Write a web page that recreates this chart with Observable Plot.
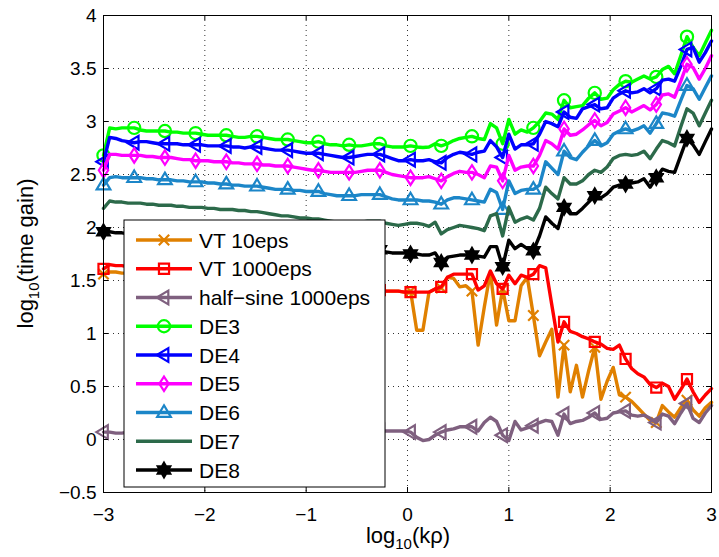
<!DOCTYPE html>
<html>
<head>
<meta charset="utf-8">
<script src="https://cdn.jsdelivr.net/npm/d3@7"></script>
<script src="https://cdn.jsdelivr.net/npm/@observablehq/plot@0.6"></script>
<style>
  body { margin: 0; background: #fff; }
  #chart { width: 719px; height: 557px; }
</style>
</head>
<body>
<div id="chart"></div>
<script>
// ---------- data ----------
const xTicks = [-3, -2, -1, 0, 1, 2, 3];
const yTicks = [-0.5, 0, 0.5, 1, 1.5, 2, 2.5, 3, 3.5, 4];

const xLog = [
 -3.000,-2.939,-2.879,-2.818,-2.758,-2.697,-2.636,-2.576,-2.515,-2.455,
 -2.394,-2.333,-2.273,-2.212,-2.152,-2.091,-2.030,-1.970,-1.909,-1.848,
 -1.788,-1.727,-1.667,-1.606,-1.545,-1.485,-1.424,-1.364,-1.303,-1.242,
 -1.182,-1.121,-1.061,-1.000,-0.939,-0.879,-0.818,-0.758,-0.697,-0.636,
 -0.576,-0.515,-0.455,-0.394,-0.333,-0.273,-0.212,-0.152,-0.091,-0.030,
  0.030, 0.091, 0.152, 0.212, 0.273, 0.333, 0.394, 0.455, 0.515, 0.576,
  0.636, 0.697, 0.758, 0.818, 0.879, 0.939, 1.000, 1.061, 1.121, 1.182,
  1.242, 1.303, 1.364, 1.424, 1.485, 1.545, 1.606, 1.667, 1.727, 1.788,
  1.848, 1.909, 1.970, 2.030, 2.091, 2.152, 2.212, 2.273, 2.333, 2.394,
  2.455, 2.515, 2.576, 2.636, 2.697, 2.758, 2.818, 2.879, 2.939, 3.000];

const vt10 = [
 1.56,1.58,1.58,1.57,1.57,1.56,1.56,1.55,1.55,1.55,
 1.54,1.54,1.53,1.53,1.52,1.52,1.51,1.51,1.50,1.50,
 1.49,1.49,1.48,1.48,1.47,1.47,1.46,1.46,1.45,1.45,
 1.44,1.44,1.43,1.43,1.42,1.42,1.42,1.41,1.41,1.41,
 1.40,1.40,1.40,1.40,1.40,1.40,1.40,1.40,1.40,1.39,
 1.40,1.03,1.03,1.39,1.42,1.43,1.53,1.52,1.44,1.45,
 1.40,0.89,1.25,1.58,1.08,1.42,1.12,1.12,1.45,1.53,
 1.17,0.79,0.92,1.04,0.40,0.89,0.45,0.70,0.40,0.65,
 0.87,0.38,0.55,0.68,0.42,0.40,0.36,0.30,0.24,0.18,
 0.16,0.32,0.26,0.21,0.30,0.37,0.28,0.22,0.30,0.35];

const vt1000 = [
 1.61,1.65,1.64,1.64,1.63,1.63,1.62,1.62,1.61,1.61,
 1.60,1.60,1.59,1.59,1.58,1.58,1.57,1.57,1.56,1.56,
 1.55,1.55,1.54,1.53,1.53,1.52,1.52,1.51,1.50,1.50,
 1.49,1.48,1.48,1.47,1.46,1.46,1.45,1.45,1.44,1.44,
 1.43,1.43,1.42,1.42,1.41,1.41,1.40,1.40,1.40,1.39,
 1.39,1.39,1.39,1.39,1.42,1.44,1.53,1.56,1.56,1.56,
 1.56,1.41,1.45,1.59,1.47,1.42,1.55,1.47,1.55,1.53,
 1.56,1.64,1.62,1.27,0.92,1.11,1.02,1.00,0.97,0.95,
 0.92,0.90,0.86,0.85,0.89,0.76,0.67,0.62,0.59,0.52,
 0.49,0.53,0.50,0.38,0.47,0.57,0.45,0.35,0.42,0.48];

const halfSine = [
 0.07,0.07,0.06,0.06,0.07,0.07,0.07,0.06,0.07,0.07,
 0.07,0.07,0.07,0.06,0.07,0.07,0.07,0.07,0.07,0.07,
 0.07,0.07,0.07,0.08,0.07,0.07,0.07,0.07,0.07,0.08,
 0.07,0.07,0.07,0.07,0.08,0.07,0.07,0.08,0.07,0.07,
 0.08,0.07,0.08,0.08,0.07,0.08,0.08,0.08,0.08,0.08,
 0.07,0.02,-0.01,0.00,0.04,0.07,0.09,0.10,0.12,0.12,
 0.12,0.08,0.16,0.21,0.17,0.04,-0.01,0.17,0.09,0.11,
 0.13,0.16,0.18,0.17,0.04,0.24,0.15,0.17,0.18,0.21,
 0.25,0.19,0.20,0.25,0.26,0.27,0.23,0.22,0.23,0.20,
 0.16,0.24,0.22,0.15,0.25,0.34,0.20,0.16,0.25,0.32];

const de3 = [
 2.68,2.94,2.93,2.94,2.94,2.94,2.92,2.91,2.91,2.91,
 2.91,2.90,2.90,2.89,2.89,2.89,2.88,2.87,2.87,2.87,
 2.87,2.86,2.85,2.85,2.86,2.86,2.85,2.84,2.83,2.83,
 2.83,2.82,2.81,2.80,2.80,2.81,2.79,2.78,2.78,2.77,
 2.78,2.77,2.77,2.78,2.79,2.79,2.77,2.76,2.76,2.76,
 2.77,2.76,2.755,2.76,2.79,2.77,2.79,2.82,2.84,2.85,
 2.86,2.84,2.83,2.98,2.94,2.79,3.02,2.88,2.92,2.90,
 2.94,3.00,3.08,3.07,3.02,3.20,3.13,3.14,3.15,3.22,
 3.27,3.21,3.22,3.30,3.35,3.38,3.37,3.40,3.43,3.40,
 3.42,3.49,3.52,3.45,3.62,3.80,3.70,3.62,3.74,3.86];

const de4 = [
 2.62,2.85,2.84,2.82,2.81,2.80,2.81,2.81,2.80,2.79,
 2.79,2.79,2.79,2.78,2.78,2.78,2.78,2.77,2.77,2.77,
 2.77,2.76,2.76,2.75,2.76,2.76,2.75,2.74,2.73,2.73,
 2.73,2.72,2.71,2.70,2.70,2.70,2.69,2.68,2.67,2.66,
 2.66,2.67,2.68,2.69,2.69,2.69,2.67,2.65,2.63,2.63,
 2.64,2.63,2.63,2.64,2.62,2.61,2.66,2.69,2.71,2.70,
 2.69,2.71,2.72,2.82,2.76,2.66,2.88,2.74,2.78,2.78,
 2.79,2.88,3.00,2.98,2.95,3.09,3.04,3.03,3.12,3.14,
 3.16,3.12,3.13,3.22,3.26,3.29,3.27,3.28,3.31,3.27,
 3.31,3.39,3.40,3.38,3.52,3.68,3.70,3.56,3.65,3.76];

const de5 = [
 2.54,2.69,2.69,2.68,2.68,2.68,2.68,2.67,2.67,2.66,
 2.66,2.66,2.65,2.64,2.64,2.63,2.63,2.63,2.62,2.62,
 2.62,2.61,2.61,2.60,2.60,2.60,2.59,2.59,2.58,2.58,
 2.58,2.57,2.56,2.55,2.54,2.54,2.53,2.52,2.52,2.52,
 2.52,2.52,2.53,2.54,2.54,2.54,2.52,2.50,2.49,2.48,
 2.47,2.47,2.47,2.48,2.46,2.44,2.48,2.51,2.53,2.52,
 2.52,2.50,2.47,2.58,2.57,2.44,2.68,2.54,2.57,2.58,
 2.58,2.68,2.82,2.79,2.74,2.93,2.87,2.88,2.92,2.97,
 3.01,2.96,2.99,3.07,3.10,3.13,3.09,3.12,3.15,3.11,
 3.16,3.25,3.26,3.23,3.38,3.54,3.51,3.40,3.50,3.62];

const de6 = [
 2.40,2.47,2.48,2.47,2.47,2.47,2.47,2.46,2.46,2.45,
 2.45,2.45,2.44,2.44,2.43,2.43,2.43,2.42,2.42,2.41,
 2.41,2.40,2.40,2.39,2.39,2.39,2.38,2.37,2.36,2.36,
 2.36,2.35,2.35,2.34,2.34,2.34,2.32,2.31,2.30,2.30,
 2.30,2.30,2.31,2.31,2.31,2.31,2.29,2.27,2.26,2.26,
 2.26,2.26,2.25,2.25,2.24,2.22,2.26,2.28,2.28,2.27,
 2.26,2.25,2.24,2.36,2.33,2.17,2.44,2.32,2.35,2.36,
 2.36,2.40,2.62,2.56,2.50,2.72,2.66,2.64,2.71,2.77,
 2.82,2.77,2.80,2.88,2.91,2.93,2.91,2.93,2.96,2.89,
 2.98,3.08,3.07,3.05,3.20,3.34,3.31,3.21,3.32,3.43];

const de7 = [
 2.18,2.25,2.24,2.24,2.23,2.23,2.23,2.22,2.22,2.21,
 2.21,2.21,2.20,2.20,2.19,2.19,2.19,2.18,2.18,2.17,
 2.17,2.17,2.16,2.16,2.15,2.15,2.14,2.13,2.12,2.11,
 2.11,2.10,2.09,2.09,2.08,2.08,2.07,2.06,2.05,2.04,
 2.04,2.04,2.05,2.06,2.06,2.06,2.04,2.03,2.02,2.03,
 2.04,2.04,2.03,2.01,2.05,1.94,1.98,2.00,2.02,2.01,
 2.00,1.99,1.97,2.11,2.13,1.92,2.19,2.05,2.08,2.10,
 2.07,2.18,2.38,2.32,2.27,2.47,2.41,2.41,2.44,2.50,
 2.54,2.52,2.57,2.65,2.68,2.69,2.68,2.69,2.72,2.65,
 2.74,2.82,2.80,2.77,2.95,3.12,3.08,2.96,3.08,3.20];

const de8 = [
 1.96,1.96,1.95,1.95,1.94,1.94,1.93,1.93,1.92,1.92,
 1.92,1.91,1.91,1.90,1.90,1.90,1.89,1.89,1.88,1.88,
 1.88,1.87,1.87,1.86,1.86,1.86,1.85,1.84,1.84,1.83,
 1.83,1.82,1.81,1.81,1.80,1.80,1.79,1.78,1.78,1.77,
 1.77,1.77,1.78,1.79,1.79,1.79,1.77,1.76,1.76,1.76,
 1.75,1.75,1.74,1.74,1.76,1.67,1.72,1.73,1.74,1.74,
 1.74,1.73,1.72,1.82,1.82,1.63,1.88,1.80,1.84,1.80,
 1.78,1.92,2.10,2.04,1.99,2.19,2.13,2.13,2.18,2.24,
 2.30,2.28,2.32,2.38,2.40,2.41,2.42,2.43,2.46,2.38,
 2.47,2.55,2.53,2.52,2.68,2.84,2.78,2.69,2.81,2.93];

const seriesNames = ["VT 10eps", "VT 1000eps", "half\u2212sine 1000eps", "DE3", "DE4", "DE5", "DE6", "DE7", "DE8"];
const seriesValues = [vt10, vt1000, halfSine, de3, de4, de5, de6, de7, de8];
const seriesColors = ["#e08000", "#ff0000", "#7f607f", "#00ff00", "#0000ff", "#ff00ff", "#1c86c8", "#2c6a4a", "#000000"];

// ---------- marker shapes (MATLAB-like) ----------
const R = s => Math.sqrt(s / Math.PI);
const symTimes = {draw(c, s) { const h = R(s) * 0.72; c.moveTo(-h, -h); c.lineTo(h, h); c.moveTo(-h, h); c.lineTo(h, -h); }};
const symSquare = {draw(c, s) { const h = R(s) * 0.7; c.moveTo(-h, -h); c.lineTo(h, -h); c.lineTo(h, h); c.lineTo(-h, h); c.closePath(); }};
const symLeft = {draw(c, s) { const r = R(s); c.moveTo(-r, 0); c.lineTo(0.6 * r, -0.95 * r); c.lineTo(0.6 * r, 0.95 * r); c.closePath(); }};
const symCircle = {draw(c, s) { const r = R(s) * 0.85; c.moveTo(r, 0); c.arc(0, 0, r, 0, 2 * Math.PI); }};
const symDiamond = {draw(c, s) { const r = R(s); c.moveTo(0, -r); c.lineTo(0.65 * r, 0); c.lineTo(0, r); c.lineTo(-0.65 * r, 0); c.closePath(); }};
const symUp = {draw(c, s) { const r = R(s); c.moveTo(0, -r); c.lineTo(0.95 * r, 0.6 * r); c.lineTo(-0.95 * r, 0.6 * r); c.closePath(); }};
const symHex = {draw(c, s) {
  const r = R(s), ri = r / Math.sqrt(3);
  for (let k = 0; k < 12; k++) {
    const a = -Math.PI / 2 + k * Math.PI / 6, rr = k % 2 ? ri : r;
    const px = rr * Math.cos(a), py = rr * Math.sin(a);
    if (k === 0) c.moveTo(px, py); else c.lineTo(px, py);
  }
  c.closePath();
}};
const seriesSymbols = [symTimes, symSquare, symLeft, symCircle, symLeft, symDiamond, symUp, null, symHex];
const seriesFill = ["none", "none", "none", "none", "none", "none", "none", "none", "#000000"];
const markerR = 7.2;

// ---------- table ----------
const rows = [];
seriesNames.forEach((name, k) => {
  seriesValues[k].forEach((v, i) => rows.push({series: name, k, i, x: xLog[i], y: v}));
});

const FONT = "'Liberation Sans', Arial, Helvetica, sans-serif";
const fmt = d => (d < 0 ? "\u2212" + Math.abs(d) : String(d));

const innerH = 557 - 15 - 65;
const innerW = 719 - 103 - 8;

const marks = [
  Plot.ruleX(xTicks, {stroke: "#333", strokeDasharray: "1,4", strokeWidth: 1}),
  Plot.ruleY(yTicks, {stroke: "#333", strokeDasharray: "1,4", strokeWidth: 1})
];
seriesNames.forEach((name, k) => {
  const d = rows.filter(r => r.k === k);
  marks.push(Plot.line(d, {x: "x", y: "y", stroke: seriesColors[k], strokeWidth: 3.4, strokeLinejoin: "round"}));
  if (seriesSymbols[k]) {
    marks.push(Plot.dot(d.filter(r => r.i % 5 === 0), {
      x: "x", y: "y", symbol: seriesSymbols[k], r: markerR,
      stroke: seriesColors[k], fill: seriesFill[k], strokeWidth: 2.2
    }));
  }
});
marks.push(
  Plot.frame({stroke: "#000", strokeWidth: 1}),
  Plot.ruleX(xTicks, {stroke: "#000", insetTop: innerH - 5}),
  Plot.ruleX(xTicks, {stroke: "#000", insetBottom: innerH - 5}),
  Plot.ruleY(yTicks, {stroke: "#000", insetRight: innerW - 5}),
  Plot.ruleY(yTicks, {stroke: "#000", insetLeft: innerW - 5})
);

const chart = Plot.plot({
  width: 719, height: 557,
  marginTop: 15, marginRight: 8, marginBottom: 65, marginLeft: 103,
  style: {fontFamily: FONT, fontSize: "19px", color: "#000", background: "#fff", overflow: "visible"},
  x: {domain: [-3, 3], ticks: xTicks, tickSize: 0, tickPadding: 15, tickFormat: fmt, label: null},
  y: {domain: [-0.5, 4], ticks: yTicks, tickSize: 0, tickPadding: 7, tickFormat: fmt, label: null},
  marks
});
document.getElementById("chart").appendChild(chart);

// ---------- axis labels with subscripts ----------
const svg = d3.select(chart);
const xl = svg.append("text").attr("x", 408).attr("y", 543).attr("text-anchor", "middle")
  .style("font-family", FONT).style("font-size", "22px").attr("fill", "#000");
xl.append("tspan").text("log");
xl.append("tspan").attr("dy", 6).style("font-size", "15px").text("10");
xl.append("tspan").attr("dy", -6).text("(k\u03c1)");

const yl = svg.append("text").attr("transform", "translate(33,253.5) rotate(-90)").attr("text-anchor", "middle")
  .style("font-family", FONT).style("font-size", "22px").attr("fill", "#000");
yl.append("tspan").text("log");
yl.append("tspan").attr("dy", 6).style("font-size", "15px").text("10");
yl.append("tspan").attr("dy", -6).text("(time gain)");

// ---------- legend ----------
const lg = svg.append("g").attr("text-anchor", "start");
lg.append("rect").attr("x", 124).attr("y", 220).attr("width", 261).attr("height", 267)
  .attr("fill", "#fff").attr("stroke", "#000").attr("stroke-width", 1);
seriesNames.forEach((name, k) => {
  const yy = 240 + k * 28.75;
  lg.append("line").attr("x1", 136).attr("x2", 192).attr("y1", yy).attr("y2", yy)
    .attr("stroke", seriesColors[k]).attr("stroke-width", 3.4);
  if (seriesSymbols[k]) {
    lg.append("path").attr("transform", `translate(164,${yy})`)
      .attr("d", d3.symbol(seriesSymbols[k], Math.PI * markerR * markerR)())
      .attr("stroke", seriesColors[k]).attr("fill", seriesFill[k]).attr("stroke-width", 2.2);
  }
  lg.append("text").attr("x", 199).attr("y", yy).attr("dy", "0.36em").attr("text-anchor", "start")
    .style("font-family", FONT).style("font-size", "21px").attr("fill", "#000").text(name);
});
</script>
</body>
</html>
